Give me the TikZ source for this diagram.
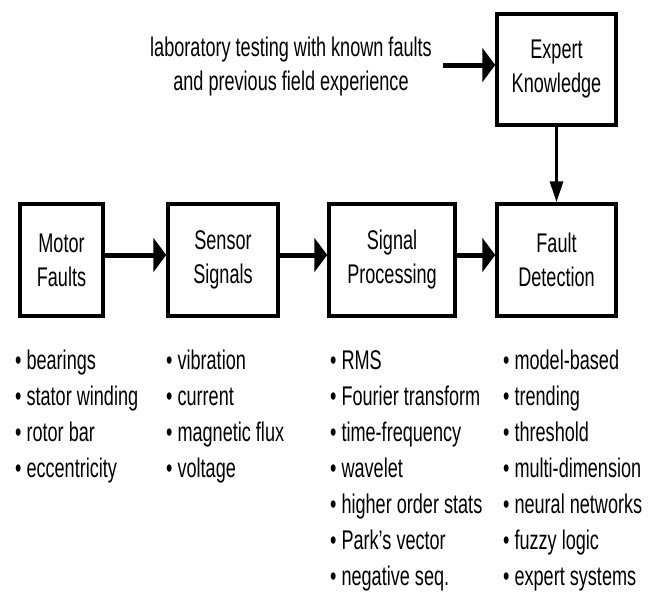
\documentclass[tikz,border=0pt]{standalone}
\usepackage{fontspec}
\setmainfont{Liberation Sans}[FakeStretch=0.67]
\usetikzlibrary{arrows.meta}
\begin{document}
\begin{tikzpicture}[x=1pt,y=-1pt,
  box/.style={draw=black, line width=3.5pt, inner sep=0pt, align=center, font=\fontsize{27}{34}\selectfont},
  flow/.style={line width=5pt, -{Triangle[length=13pt,width=34pt]}},
  down/.style={line width=3pt, -{Triangle[length=21pt,width=13pt]}},
  item/.style={anchor=base west, inner sep=0pt, font=\fontsize{27}{30}\selectfont}]
\fill[white] (0,0) rectangle (648,592);
\useasboundingbox (0,0) rectangle (648,592);

\node[box, minimum width=83pt, minimum height=112pt] (motor) at (61.5,260) {Motor\\Faults};
\node[box, minimum width=110pt, minimum height=112pt] (sensor) at (223,260) {Sensor\\Signals};
\node[box, minimum width=126pt, minimum height=112pt] (signal) at (392,260) {Signal\\Processing};
\node[box, minimum width=119pt, minimum height=112pt] (fault) at (556.5,260) {Fault\\Detection};
\node[box, minimum width=119pt, minimum height=111pt] (expert) at (556.5,69.5) {Expert\\Knowledge};

\node[align=center, inner sep=0pt, font=\fontsize{27}{34}\selectfont] (lab) at (291,67)
  {laboratory testing with known faults\\and previous field experience};
\coordinate (labend) at (443,65);

\draw[flow] (labend) -- (labend -| expert.west);
\draw[flow] ([yshift=5pt]motor.east) -- ([yshift=5pt]sensor.west);
\draw[flow] ([yshift=5pt]sensor.east) -- ([yshift=5pt]signal.west);
\draw[flow] ([yshift=5pt]signal.east) -- ([yshift=5pt]fault.west);
\draw[down] (expert.south) -- (fault.north);

\foreach \t [count=\i] in {bearings, stator winding, rotor bar, eccentricity}
  \node[item] (a\i) at (15,{369+36*(\i-1)}) {•\ \t};
\foreach \t [count=\i] in {vibration, current, magnetic flux, voltage}
  \node[item] (b\i) at (166,{369+36*(\i-1)}) {•\ \t};
\foreach \t [count=\i] in {RMS, Fourier transform, time-frequency, wavelet, higher order stats, Park’s vector, negative seq.}
  \node[item] (c\i) at (330,{369+36*(\i-1)}) {•\ \t};
\foreach \t [count=\i] in {model-based, trending, threshold, multi-dimension, neural networks, fuzzy logic, expert systems}
  \node[item] (d\i) at (503,{369+36*(\i-1)}) {•\ \t};
\end{tikzpicture}
\end{document}
